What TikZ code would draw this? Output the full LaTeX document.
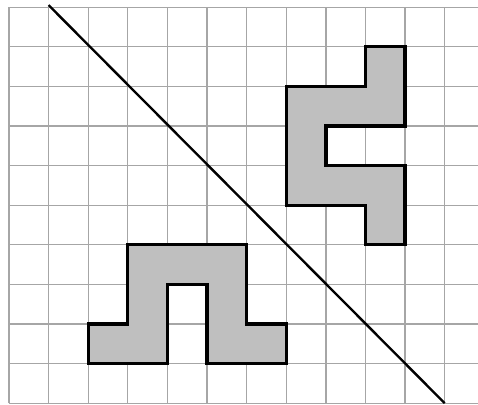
\documentclass[tikz,border=0pt]{standalone}
\usepackage{tikz}

\begin{document}
\begin{tikzpicture}[
        gridline/.style={gray!70, line width=0.9pt},
        figure/.style={fill=gray!50, draw=black, line width=2.4pt, line join=miter},
        axis/.style={black, line width=1.7pt}
        ]

        \useasboundingbox (-0.227,-0.02) rectangle (11.84,10.18);

        \draw[gridline] (0,0) grid (11.9,10);

        % figure on the right
        \draw[figure] (9,9) -- (10,9) -- (10,7) -- (8,7) -- (8,6) -- (10,6) -- (10,4)
            -- (9,4) -- (9,5) -- (7,5) -- (7,8) -- (9,8) -- cycle;

        % figure on the bottom
        \draw[figure] (3,4) -- (6,4) -- (6,2) -- (7,2) -- (7,1) -- (5,1) -- (5,3)
            -- (4,3) -- (4,1) -- (2,1) -- (2,2) -- (3,2) -- cycle;

        \coordinate (top) at (1,10.05);
        \coordinate (bottom) at (11,0);
        \draw[axis] (top) -- (bottom);

    \end{tikzpicture}
\end{document}
